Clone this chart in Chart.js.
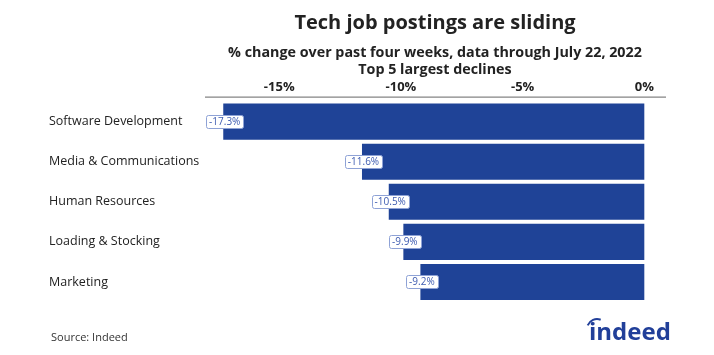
<!DOCTYPE html>
<html><head><meta charset="utf-8">
<script src="https://cdn.jsdelivr.net/npm/chart.js@4"></script>
<style>html,body{margin:0;padding:0;background:#fff}#wrap{width:714px;height:355px;position:relative}</style>
</head><body><div id="wrap"><canvas id="c" width="714" height="355"></canvas></div>
<script>
const categories = ["Software Development","Media & Communications","Human Resources","Loading & Stocking","Marketing"];
const values = [-17.3,-11.6,-10.5,-9.9,-9.2];
const tickValues = [-15,-10,-5,0];
const titleText = "Tech job postings are sliding";
const subtitleLines = ["% change over past four weeks, data through July 22, 2022","Top 5 largest declines"];
const sourceText = "Source: Indeed";
const FONT = "'Open Sans', 'DejaVu Sans', sans-serif";

const deco = {
  id:'deco',
  afterDraw(chart){
    const ctx = chart.ctx, ca = chart.chartArea, xs = chart.scales.x;
    ctx.save();
    const cx = (xs.left + xs.right)/2;
    ctx.fillStyle = '#222'; ctx.textAlign='center'; ctx.textBaseline='alphabetic';
    ctx.font = "bold 20px " + FONT;
    ctx.fillText(titleText, cx, 29);
    ctx.font = "bold 14.3px " + FONT;
    ctx.fillText(subtitleLines[0], cx, 57);
    ctx.fillText(subtitleLines[1], cx, 74);
    // axis line
    ctx.strokeStyle = '#666'; ctx.lineWidth = 1;
    ctx.beginPath(); ctx.moveTo(xs.left, ca.top - 4.5); ctx.lineTo(xs.right+1, ca.top - 4.5); ctx.stroke();
    // data labels
    const meta = chart.getDatasetMeta(0);
    ctx.font = "10px " + FONT;
    meta.data.forEach((bar, i) => {
      const txt = values[i].toFixed(1) + '%';
      const w = ctx.measureText(txt).width + 6, h = 13;
      const x = xs.getPixelForValue(values[i]) + 1.5, y = bar.y;
      ctx.fillStyle = '#fff'; ctx.strokeStyle = '#8ea2d6'; ctx.lineWidth = 1;
      ctx.beginPath(); ctx.roundRect(Math.round(x - w/2)+0.5, Math.round(y - h/2)+0.5, Math.round(w), h, 2);
      ctx.fill(); ctx.stroke();
      ctx.fillStyle = '#3d5bb0'; ctx.textAlign='center'; ctx.textBaseline='middle';
      ctx.fillText(txt, x, y + 0.5);
    });
    // source
    ctx.fillStyle = '#333'; ctx.textAlign='left'; ctx.textBaseline='alphabetic';
    ctx.font = "11px " + FONT;
    ctx.fillText(sourceText, 51, 341);
    // logo
    ctx.fillStyle = '#213f99';
    ctx.font = "bold 24px " + FONT;
    ctx.fillText("indeed", 589, 340);
    ctx.strokeStyle = '#213f99'; ctx.lineWidth = 2;
    ctx.beginPath(); ctx.arc(597, 329, 10, Math.PI*1.12, Math.PI*1.62); ctx.stroke();
    ctx.restore();
  }
};

new Chart(document.getElementById('c'), {
  type:'bar',
  data:{ labels: categories, datasets:[{ data: values, backgroundColor:'#1f4397', borderWidth:0, barPercentage:0.9, categoryPercentage:1 }]},
  options:{
    indexAxis:'y', responsive:false, animation:false, devicePixelRatio:1,
    layout:{ padding:{ left:49, right:49, top:72, bottom:53 } },
    plugins:{ legend:{display:false}, tooltip:{enabled:false}, title:{display:false} },
    scales:{
      x:{ position:'top', min:-18.05, max:0.85,
        afterBuildTicks(s){ s.ticks = tickValues.map(v=>({value:v})); },
        grid:{ display:false, drawTicks:false }, border:{ display:false },
        ticks:{ padding:7, color:'#222', font:{ family:FONT, size:13, weight:'bold' }, callback:(v)=> v + '%' } },
      y:{ grid:{display:false}, border:{display:false},
        afterFit(s){ s.width = 156; },
        ticks:{ crossAlign:'far', color:'#222', font:{ family:FONT, size:12.5 } } }
    }
  },
  plugins:[deco]
});
</script></body></html>
